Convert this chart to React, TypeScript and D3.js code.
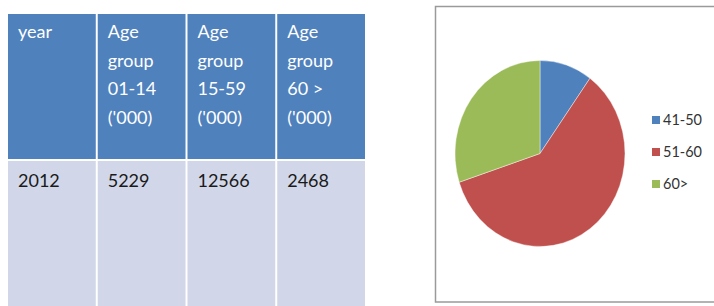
import { useRef, useEffect } from "react";
import { select, scaleBand, pie, arc } from "d3";

// table data
const headers: string[][] = [
    ["year"],
    ["Age", "group", "01-14", "('000)"],
    ["Age", "group", "15-59", "('000)"],
    ["Age", "group", "60 >", "('000)"],
];
const rowValues = ["2012", "5229", "12566", "2468"];

// pie data
const pieLabels = ["41-50", "51-60", "60>"];
const pieValues = [10, 60, 30];
const pieColors = ["#4F81BD", "#C0504D", "#9BBB59"];

const W = 714;
const H = 306;
const FONT = "Lato, 'Open Sans', sans-serif";

const App = () => {
    const svgRef = useRef<SVGSVGElement>(null);

    useEffect(() => {
        const svg = select(svgRef.current);
        svg.selectAll("*").remove();

        // ---- Table ----
        const cols = scaleBand<number>()
            .domain(headers.map((_, i) => i))
            .range([8, 365])
            .paddingInner(0.022);

        const headTop = 14, headBottom = 159, bodyTop = 161, bodyBottom = 306;
        const table = svg.append("g");

        const cell = table.selectAll("g.col")
            .data(headers)
            .join("g")
            .attr("class", "col")
            .attr("transform", (_, i) => `translate(${cols(i)},0)`);

        cell.append("rect")
            .attr("y", headTop)
            .attr("width", cols.bandwidth())
            .attr("height", headBottom - headTop)
            .attr("fill", "#4F81BD");

        cell.append("rect")
            .attr("y", bodyTop)
            .attr("width", cols.bandwidth())
            .attr("height", bodyBottom - bodyTop)
            .attr("fill", "#D1D7E8");

        cell.each(function (lines) {
            select(this).selectAll("text.h")
                .data(lines)
                .join("text")
                .attr("class", "h")
                .attr("x", 10)
                .attr("y", (_, j) => 38 + j * 28.6)
                .attr("fill", "#ffffff")
                .style("font-family", FONT)
                .style("font-size", "18px")
                .text((d) => d);
        });

        cell.append("text")
            .attr("x", 10)
            .attr("y", 187)
            .attr("fill", "#1a1a1a")
            .style("font-family", FONT)
            .style("font-size", "18px")
            .text((_, i) => rowValues[i]);

        // ---- Pie panel ----
        svg.append("rect")
            .attr("x", 435.5)
            .attr("y", 6.5)
            .attr("width", 290)
            .attr("height", 295.5)
            .attr("fill", "#ffffff")
            .attr("stroke", "#9a9a9a")
            .attr("stroke-width", 1.5);

        const rx = 85, ry = 93;
        const pieGen = pie<number>().sort(null).value((d) => d);
        const arcGen = arc<any>().innerRadius(0).outerRadius(rx);

        svg.append("g")
            .attr("transform", `translate(540,153.5) scale(1,${ry / rx})`)
            .selectAll("path")
            .data(pieGen(pieValues))
            .join("path")
            .attr("d", arcGen)
            .attr("fill", (_, i) => pieColors[i])
            .attr("stroke", "#ffffff")
            .attr("stroke-width", 0.4);

        // legend
        const legend = svg.append("g")
            .selectAll("g")
            .data(pieLabels)
            .join("g")
            .attr("transform", (_, i) => `translate(652,${120 + i * 32})`);

        legend.append("rect")
            .attr("x", 0)
            .attr("y", -4)
            .attr("width", 8)
            .attr("height", 8)
            .attr("fill", (_, i) => pieColors[i]);

        legend.append("text")
            .attr("x", 11)
            .attr("y", 5)
            .attr("fill", "#333")
            .style("font-family", FONT)
            .style("font-size", "14.5px")
            .text((d) => d);
    }, []);

    return (
        <svg
            ref={svgRef}
            width={W}
            height={H}
            style={{ position: "absolute", left: 0, top: 0, background: "#fff" }}
        ></svg>
    );
};

export default App;
